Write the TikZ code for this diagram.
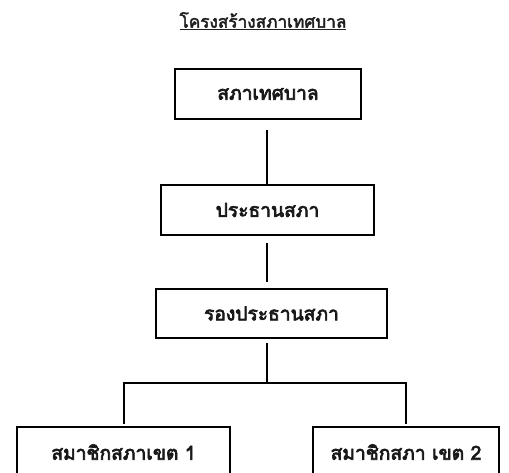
\documentclass[tikz,border=0pt]{standalone}
\usepackage{fontspec}
\newfontfamily\thaifont[Script=Thai,AutoFakeBold=2.5]{Loma}
\newfontfamily\thaiheavy[Script=Thai,AutoFakeBold=3.6]{Loma}
\begin{document}
\begin{tikzpicture}[x=1pt,y=-1pt,
  box/.style={draw=black,line width=1.6pt,fill=white,inner sep=0pt,font=\thaiheavy\bfseries\fontsize{19.2}{23}\selectfont,text=black!90},
  link/.style={draw=black,line width=2pt}]
\useasboundingbox (0,0) rectangle (509,472);
\clip (0,0) rectangle (509,472);
\node[font=\thaifont\bfseries\fontsize{17.2}{20}\selectfont,text=black!88] (title) at (263,21) {\underline{โครงสร้างสภาเทศบาล}};
\node[box,minimum width=186pt,minimum height=50pt] (b1) at (268,94) {สภาเทศบาล};
\node[box,minimum width=213pt,minimum height=50pt] (b2) at (267.5,210) {ประธานสภา};
\node[box,minimum width=231pt,minimum height=49pt] (b3) at (271.5,313.5) {รองประธานสภา};
\node[box,minimum width=213pt,minimum height=50pt] (b4) at (123.5,452) {สมาชิกสภาเขต 1};
\node[box,minimum width=186pt,minimum height=50pt] (b5) at (406,452) {สมาชิกสภา เขต 2};
\draw[link,shorten <=10pt] (b1.south -| 267,0) -- (b2.north -| 267,0);
\draw[link,shorten <=7pt,shorten >=6pt] (b2.south -| 267,0) -- (b3.north -| 267,0);
\coordinate (j) at (267,383);
\draw[link,shorten <=4pt] (b3.south -| 267,0) -- (j);
\draw[link,shorten >=2pt] (j) -| (b4.north);
\draw[link,shorten >=2pt] (j) -| (b5.north);
\end{tikzpicture}
\end{document}
